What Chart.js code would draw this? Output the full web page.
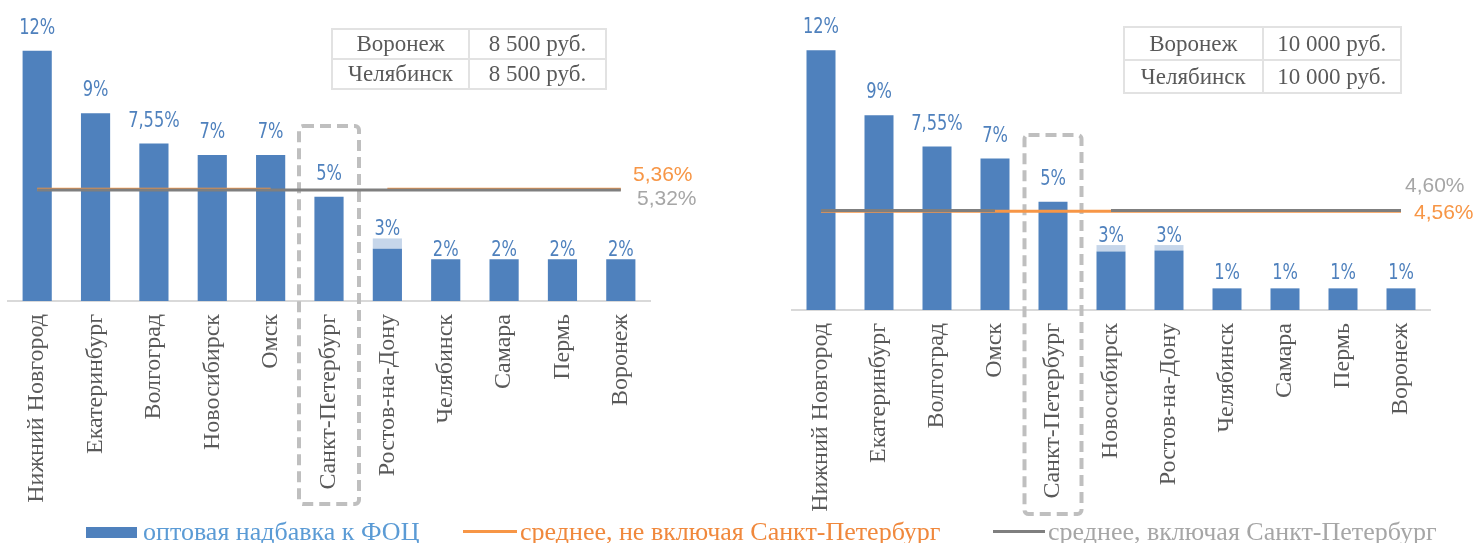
<!DOCTYPE html>
<html lang="ru">
<head>
<meta charset="UTF-8">
<title>Оптовая надбавка к ФОЦ</title>
<script src="https://cdn.jsdelivr.net/npm/chart.js"></script>
<style>
  html, body { margin: 0; padding: 0; background: #fff; }
  body { width: 1476px; height: 543px; position: relative; overflow: hidden; font-family: "Liberation Serif", serif; }
  .box { position: absolute; top: 0; }
  canvas { display: block; }
  table.price { position: absolute; border-collapse: collapse; color: #595959; font-size: 23px; table-layout: fixed; }
  table.price td { border: 2px solid #e2e2e2; text-align: center; padding: 0; white-space: nowrap; }
  .legend > * { position: absolute; white-space: nowrap; font-size: 26px; line-height: 26px; }
</style>
</head>
<body>
<div class="box" style="left:0"><canvas id="chartLeft" width="700" height="543"></canvas></div>
<div class="box" style="left:740px"><canvas id="chartRight" width="736" height="543"></canvas></div>
<table class="price" id="tableLeft" style="left:331px;top:28px;width:276px"></table>
<table class="price" id="tableRight" style="left:1123px;top:26px;width:279px"></table>
<div class="legend">
  <div style="left:86px;top:527px;width:51px;height:11px;background:#4f81bd"></div>
  <div style="left:143px;top:519px;color:#5b9bd5">оптовая надбавка к ФОЦ</div>
  <div style="left:463px;top:530px;width:54px;height:3px;background:#f79646"></div>
  <div style="left:520px;top:519px;color:#f0883c">среднее, не включая Санкт-Петербург</div>
  <div style="left:993px;top:530px;width:52px;height:3px;background:#7f7f7f"></div>
  <div style="left:1048px;top:519px;color:#a6a6a6">среднее, включая Санкт-Петербург</div>
</div>
<script>
// левый график
const citiesLeft = ['Нижний Новгород', 'Екатеринбург', 'Волгоград', 'Новосибирск', 'Омск',
  'Санкт-Петербург', 'Ростов-на-Дону', 'Челябинск', 'Самара', 'Пермь', 'Воронеж'];
const markupLeft = [12, 9, 7.55, 7, 7, 5, 2.5, 2, 2, 2, 2];
const markupLeftExtra = [0, 0, 0, 0, 0, 0, 0.5, 0, 0, 0, 0];
const avgExclLeft = 5.36;
const avgInclLeft = 5.32;
const pricesLeft = [['Воронеж', '8 500 руб.'], ['Челябинск', '8 500 руб.']];

// правый график
const citiesRight = ['Нижний Новгород', 'Екатеринбург', 'Волгоград', 'Омск', 'Санкт-Петербург',
  'Новосибирск', 'Ростов-на-Дону', 'Челябинск', 'Самара', 'Пермь', 'Воронеж'];
const markupRight = [12, 9, 7.55, 7, 5, 2.7, 2.75, 1, 1, 1, 1];
const markupRightExtra = [0, 0, 0, 0, 0, 0.3, 0.25, 0, 0, 0, 0];
const avgExclRight = 4.56;
const avgInclRight = 4.60;
const pricesRight = [['Воронеж', '10 000 руб.'], ['Челябинск', '10 000 руб.']];

const BLUE = '#4f81bd', LIGHT_BLUE = '#c6d6ea', ORANGE = '#f79646', GRAY = '#7f7f7f';

function fillTable(id, rows, rowHeight) {
  var t = document.getElementById(id);
  rows.forEach(function(r) {
    var tr = t.insertRow();
    r.forEach(function(txt) {
      var td = tr.insertCell();
      td.textContent = txt;
      td.style.height = rowHeight + 'px';
    });
  });
}
fillTable('tableLeft', pricesLeft, 28);
fillTable('tableRight', pricesRight, 31);

function pct(v, digits) {
  var s = digits ? v.toFixed(digits) : String(Math.round(v * 100) / 100);
  return s.replace('.', ',') + '%';
}

var extrasPlugin = {
  id: 'extras',
  beforeDatasetsDraw: function(chart, args, o) {
    var ctx = chart.ctx;
    var x = chart.scales.x.getPixelForValue(o.spb);
    ctx.save();
    ctx.strokeStyle = '#bfbfbf';
    ctx.lineWidth = 4;
    ctx.setLineDash([11, 6]);
    ctx.beginPath();
    ctx.roundRect(x - o.boxHalf, o.boxTop, o.boxHalf * 2, o.boxBottom - o.boxTop, 4);
    ctx.stroke();
    ctx.restore();
  },
  afterDatasetsDraw: function(chart, args, o) {
    var ctx = chart.ctx;
    var base = chart.data.datasets[2].data, extra = chart.data.datasets[3].data;
    var meta = chart.getDatasetMeta(3);
    ctx.save();
    ctx.fillStyle = BLUE;
    ctx.font = '22px "Liberation Sans Narrow", "DejaVu Sans Condensed", sans-serif';
    ctx.textAlign = 'center';
    ctx.textBaseline = 'alphabetic';
    base.forEach(function(v, i) {
      var total = v + extra[i];
      var el = meta.data[i];
      var gap = total >= 5 ? 17 : (total >= 2 ? 3 : 9);
      ctx.save();
      ctx.translate(el.x, el.y - gap);
      ctx.scale(0.82, 1);
      ctx.fillText(pct(total), 0, 0);
      ctx.restore();
    });
    ctx.font = '21px "Liberation Sans", Arial, sans-serif';
    ctx.textAlign = 'left';
    ctx.textBaseline = 'middle';
    o.avgLabels.forEach(function(a) {
      var v = chart.data.datasets[a.ds].data.find(function(d) { return d !== null; });
      var y = chart.scales.y.getPixelForValue(v);
      ctx.fillStyle = a.color;
      ctx.fillText(pct(v, 2), chart.chartArea.right + a.dx, y + a.dy);
    });
    ctx.restore();
  }
};

function makeChart(id, cities, base, extra, avgIncl, avgExcl, o) {
  var spb = cities.indexOf('Санкт-Петербург');
  var lineIncl = cities.map(function(c, i) { return (o.gap === 'incl' && i === spb) ? null : avgIncl; });
  var lineExcl = cities.map(function(c, i) { return (o.gap === 'excl' && i === spb) ? null : avgExcl; });
  o.spb = spb;
  return new Chart(document.getElementById(id), {
    type: 'bar',
    data: {
      labels: cities,
      datasets: [
        { type: 'line', label: 'среднее, включая Санкт-Петербург', data: lineIncl, borderColor: GRAY,
          borderWidth: 3, pointRadius: 0, spanGaps: false, stack: 'incl', order: 0 },
        { type: 'line', label: 'среднее, не включая Санкт-Петербург', data: lineExcl, borderColor: ORANGE,
          borderWidth: 3, pointRadius: 0, spanGaps: false, stack: 'excl', order: 1 },
        { label: 'оптовая надбавка к ФОЦ', data: base, backgroundColor: BLUE, stack: 'bars', order: 2,
          barPercentage: 0.5, categoryPercentage: 1 },
        { label: 'диапазон', data: extra, backgroundColor: LIGHT_BLUE, stack: 'bars', order: 3,
          barPercentage: 0.5, categoryPercentage: 1 }
      ]
    },
    options: {
      responsive: false,
      animation: false,
      layout: { padding: { top: o.top, left: o.left, right: o.right, bottom: 0 } },
      plugins: { legend: { display: false }, tooltip: { enabled: false }, extras: o },
      scales: {
        x: {
          stacked: true,
          grid: { display: false, drawTicks: false },
          border: { display: true, color: '#d9d9d9', width: 2 },
          ticks: { autoSkip: false, minRotation: 90, maxRotation: 90, padding: 13, color: '#595959',
            font: { family: '"Liberation Serif", serif', size: 24 } },
          afterFit: function(scale) { scale.height = o.axisHeight; }
        },
        y: { display: false, stacked: true, min: 0, max: 14 }
      }
    },
    plugins: [extrasPlugin]
  });
}

makeChart('chartLeft', citiesLeft, markupLeft, markupLeftExtra, avgInclLeft, avgExclLeft, {
  top: 9, left: 8, right: 50, axisHeight: 242, gap: 'excl',
  boxHalf: 30, boxTop: 126, boxBottom: 504,
  avgLabels: [{ ds: 1, color: ORANGE, dx: -17, dy: -14 }, { ds: 0, color: '#a6a6a6', dx: -13, dy: 9 }]
});
makeChart('chartRight', citiesRight, markupRight, markupRightExtra, avgInclRight, avgExclRight, {
  top: 7, left: 52, right: 46, axisHeight: 233, gap: 'incl',
  boxHalf: 28.5, boxTop: 135, boxBottom: 514,
  avgLabels: [{ ds: 0, color: '#a6a6a6', dx: -25, dy: -24 }, { ds: 1, color: ORANGE, dx: -16, dy: 2 }]
});
</script>
</body>
</html>
